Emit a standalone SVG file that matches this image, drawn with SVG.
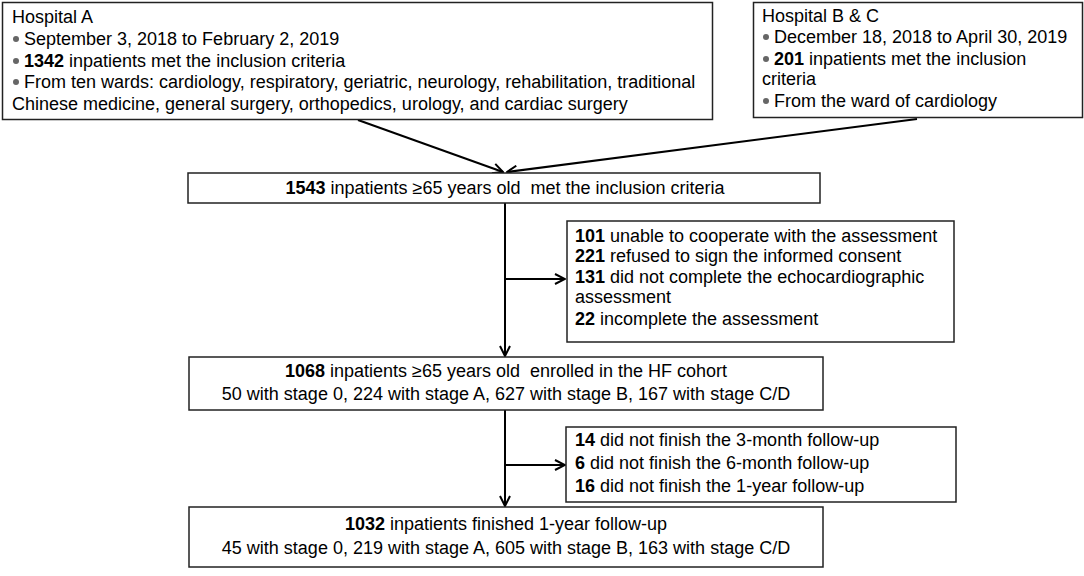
<svg xmlns="http://www.w3.org/2000/svg" width="1084" height="576" viewBox="0 0 1084 576">
<style>
.box{fill:#fff;stroke:#222;stroke-width:1.5}
text{font-family:"Liberation Sans",Arial,sans-serif;font-size:18px;fill:#000}
.b{font-weight:bold}
.c{text-anchor:middle}
.dot{fill:#666}
.ln{stroke:#000;stroke-width:2;fill:none}
</style>
<defs>
<marker id="arr" viewBox="0 0 12 12" refX="11" refY="6" markerWidth="12" markerHeight="12" markerUnits="userSpaceOnUse" orient="auto">
<path d="M1,1 L11,6 L1,11" fill="none" stroke="#000" stroke-width="2"/>
</marker>
</defs>
<rect width="1084" height="576" fill="#fff"/>
<g id="connectors">
<line class="ln" x1="358" y1="120" x2="503" y2="172" marker-end="url(#arr)"/>
<line class="ln" x1="917" y1="119" x2="507" y2="172" marker-end="url(#arr)"/>
<line class="ln" x1="505" y1="203" x2="505" y2="356" marker-end="url(#arr)"/>
<line class="ln" x1="505" y1="279" x2="565" y2="279" marker-end="url(#arr)"/>
<line class="ln" x1="505" y1="410" x2="505" y2="506" marker-end="url(#arr)"/>
<line class="ln" x1="505" y1="465" x2="565" y2="465" marker-end="url(#arr)"/>
</g>
<g id="hospitalA">
<rect class="box" x="2.5" y="2.5" width="710" height="117"/>
<text x="12" y="23">Hospital A</text>
<circle class="dot" cx="16" cy="39" r="3"/>
<text x="24" y="45">September 3, 2018 to February 2, 2019</text>
<circle class="dot" cx="16" cy="61" r="3"/>
<text x="24" y="67"><tspan class="b">1342</tspan> inpatients met the inclusion criteria</text>
<circle class="dot" cx="16" cy="82" r="3"/>
<text x="24" y="88">From ten wards: cardiology, respiratory, geriatric, neurology, rehabilitation, traditional</text>
<text x="12" y="110">Chinese medicine, general surgery, orthopedics, urology, and cardiac surgery</text>
</g>
<g id="hospitalBC">
<rect class="box" x="753.5" y="2.5" width="329" height="115"/>
<text x="762" y="22">Hospital B &amp; C</text>
<circle class="dot" cx="766" cy="37" r="3"/>
<text x="774" y="43">December 18, 2018 to April 30, 2019</text>
<circle class="dot" cx="766" cy="59" r="3"/>
<text x="774" y="65"><tspan class="b">201</tspan> inpatients met the inclusion</text>
<text x="762" y="85">criteria</text>
<circle class="dot" cx="766" cy="101" r="3"/>
<text x="774" y="107">From the ward of cardiology</text>
</g>
<g id="included">
<rect class="box" x="188" y="173" width="632" height="30"/>
<text class="c" x="505" y="194" xml:space="preserve"><tspan class="b">1543</tspan> inpatients ≥65 years old  met the inclusion criteria</text>
</g>
<g id="excluded1">
<rect class="box" x="567" y="221" width="387" height="121"/>
<text x="575" y="242"><tspan class="b">101</tspan> unable to cooperate with the assessment</text>
<text x="575" y="262"><tspan class="b">221</tspan> refused to sign the informed consent</text>
<text x="575" y="283"><tspan class="b">131</tspan> did not complete the echocardiographic</text>
<text x="575" y="303">assessment</text>
<text x="575" y="325"><tspan class="b">22</tspan> incomplete the assessment</text>
</g>
<g id="enrolled">
<rect class="box" x="189" y="357" width="634" height="53"/>
<text class="c" x="506" y="377" xml:space="preserve"><tspan class="b">1068</tspan> inpatients ≥65 years old  enrolled in the HF cohort</text>
<text class="c" x="506" y="400">50 with stage 0, 224 with stage A, 627 with stage B, 167 with stage C/D</text>
</g>
<g id="excluded2">
<rect class="box" x="566" y="427" width="390" height="75"/>
<text x="575" y="446"><tspan class="b">14</tspan> did not finish the 3-month follow-up</text>
<text x="575" y="469"><tspan class="b">6</tspan> did not finish the 6-month follow-up</text>
<text x="575" y="492"><tspan class="b">16</tspan> did not finish the 1-year follow-up</text>
</g>
<g id="followed">
<rect class="box" x="189" y="507" width="634" height="60"/>
<text class="c" x="506" y="530"><tspan class="b">1032</tspan> inpatients finished 1-year follow-up</text>
<text class="c" x="506" y="554">45 with stage 0, 219 with stage A, 605 with stage B, 163 with stage C/D</text>
</g>
</svg>
